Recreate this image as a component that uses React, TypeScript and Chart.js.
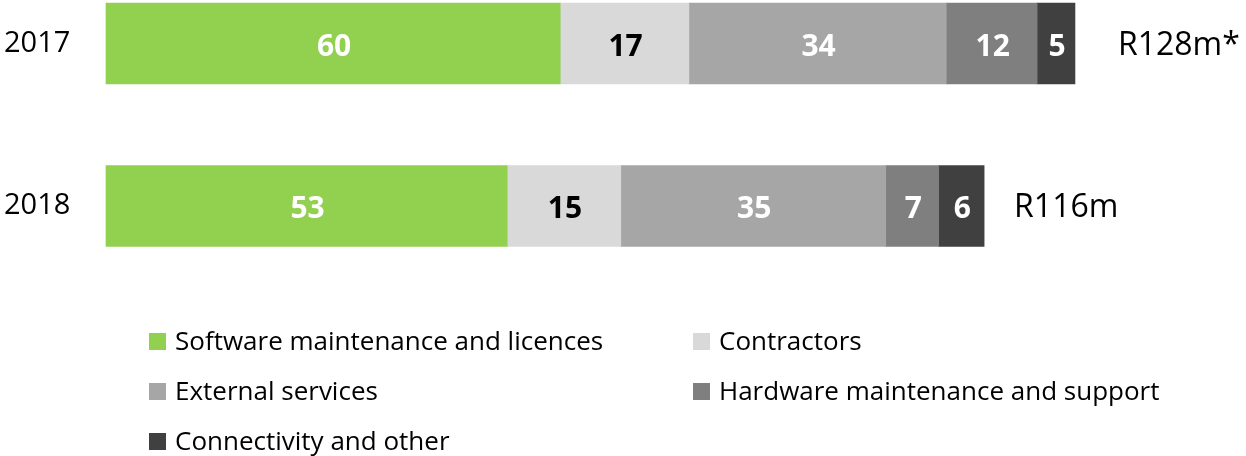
import React, { useEffect, useRef } from "react";
import { Chart, registerables } from "chart.js";

Chart.register(...registerables);

const years = ["2017", "2018"];
const seriesNames = [
  "Software maintenance and licences",
  "Contractors",
  "External services",
  "Hardware maintenance and support",
  "Connectivity and other",
];
const software = [60, 53];
const contractors = [17, 15];
const external = [34, 35];
const hardware = [12, 7];
const connectivity = [5, 6];
const totalLabels = ["R128m*", "R116m"];

const seriesColors = ["#92D050", "#D9D9D9", "#A6A6A6", "#7F7F7F", "#404040"];
const valueLabelColors = ["#FFFFFF", "#000000", "#FFFFFF", "#FFFFFF", "#FFFFFF"];
const FONT = "'Open Sans', sans-serif";

const labelPlugin = {
  id: "customLabels",
  afterDatasetsDraw(chart: any) {
    const ctx = chart.ctx;
    ctx.save();
    // segment value labels
    chart.data.datasets.forEach((ds: any, di: number) => {
      const meta = chart.getDatasetMeta(di);
      meta.data.forEach((el: any, i: number) => {
        const v = ds.data[i];
        const cx = (el.x + el.base) / 2;
        ctx.font = `bold 30px ${FONT}`;
        ctx.fillStyle = valueLabelColors[di];
        ctx.textAlign = "center";
        ctx.textBaseline = "alphabetic";
        ctx.fillText(String(v), cx + 1, el.y + 12);
      });
    });
    // totals
    const lastMeta = chart.getDatasetMeta(chart.data.datasets.length - 1);
    const gaps = [43, 30];
    lastMeta.data.forEach((el: any, i: number) => {
      ctx.font = `32px ${FONT}`;
      ctx.fillStyle = "#000000";
      ctx.textAlign = "left";
      ctx.textBaseline = "alphabetic";
      ctx.fillText(totalLabels[i], el.x + gaps[i], el.y + 11);
    });
    // legend
    const colX = [149, 693];
    const rowY = [333, 383, 433];
    chart.data.datasets.forEach((ds: any, di: number) => {
      const x = colX[di % 2];
      const y = rowY[Math.floor(di / 2)];
      ctx.fillStyle = ds.backgroundColor;
      ctx.fillRect(x, y, 17, 17);
      ctx.font = `26px ${FONT}`;
      ctx.fillStyle = "#000000";
      ctx.textAlign = "left";
      ctx.textBaseline = "alphabetic";
      ctx.fillText(ds.label, x + 26, y + 17);
    });
    ctx.restore();
  },
};

export default function App() {
  const ref = useRef<HTMLCanvasElement | null>(null);
  useEffect(() => {
    if (!ref.current) return;
    const values = [software, contractors, external, hardware, connectivity];
    const chart = new Chart(ref.current, {
      type: "bar",
      data: {
        labels: years,
        datasets: values.map((d, i) => ({
          label: seriesNames[i],
          data: d,
          backgroundColor: seriesColors[i],
          borderWidth: 0,
          barThickness: 81,
          clip: false as any,
        })),
      },
      options: {
        indexAxis: "y",
        responsive: false,
        animation: false,
        layout: { padding: { top: 43.5, bottom: 250, left: 4, right: 4.5 } },
        plugins: { legend: { display: false }, tooltip: { enabled: false } },
        scales: {
          x: { stacked: true, min: 0, max: 150, display: false },
          y: {
            stacked: true,
            offset: false,
            grid: { display: false, drawTicks: false },
            border: { display: false },
            ticks: {
              font: { family: FONT, size: 29 },
              color: "#000000",
              padding: 0,
              crossAlign: "far",
            },
            afterFit: (s: any) => {
              s.width = 102;
            },
          },
        },
      },
      plugins: [labelPlugin],
    });
    return () => chart.destroy();
  }, []);
  return (
    <div style={{ position: "fixed", left: 0, top: 0, width: 1246, height: 456, background: "#fff" }}>
      <canvas ref={ref} width={1246} height={456} />
    </div>
  );
}
